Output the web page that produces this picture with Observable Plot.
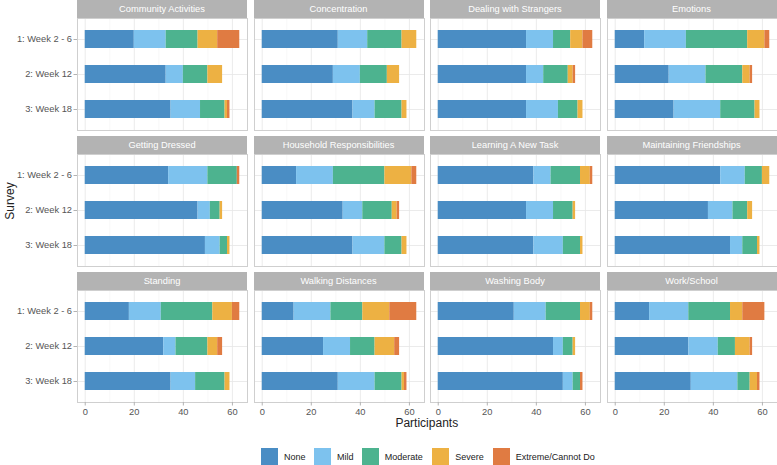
<!DOCTYPE html>
<html><head><meta charset="utf-8">
<script src="https://cdn.jsdelivr.net/npm/d3@7"></script>
<script src="https://cdn.jsdelivr.net/npm/@observablehq/plot@0.6"></script>
<style>
body{margin:0;background:#fff;font-family:"Liberation Sans",Arial,sans-serif;}
#chart{position:relative;width:777px;height:465px;overflow:hidden;background:#fff;}
.strip{position:absolute;background:#b3b3b3;color:#fff;font-size:9.3px;display:flex;align-items:center;justify-content:center;white-space:nowrap;}
.pl{position:absolute;}
.pl svg{overflow:visible;}
.title{position:absolute;color:#222;font-size:12px;white-space:nowrap;}
.lg{position:absolute;display:flex;align-items:center;font-size:9px;color:#222;white-space:nowrap;}
.sw{width:17px;height:17px;margin-right:6px;}
</style></head><body><div id="chart"></div>
<script>
const activities = ["Community Activities","Concentration","Dealing with Strangers","Emotions",
  "Getting Dressed","Household Responsibilities","Learning A New Task","Maintaining Friendships",
  "Standing","Walking Distances","Washing Body","Work/School"];
const surveys = ["1: Week 2 - 6","2: Week 12","3: Week 18"];
const levels = ["None","Mild","Moderate","Severe","Extreme/Cannot Do"];
const colors = ["#4a8dc4","#7dc2ee","#4db38f","#edb143","#e07b42"];
// values per activity (3 surveys each)
const none     = [20,33,35, 31,29,37, 36,36,36, 12,22,24, 34,46,49, 14,33,37, 39,36,39, 43,38,47, 18,32,35, 13,25,31, 31,47,51, 14,30,31];
const mild     = [13,7,12, 12,11,9, 11,7,13, 17,15,19, 16,5,6, 15,8,13, 7,11,12, 10,10,5, 13,5,10, 15,11,15, 13,4,4, 16,12,19];
const moderate = [13,10,10, 14,11,11, 7,10,8, 25,15,14, 12,4,3, 21,12,7, 12,8,7, 7,6,6, 21,13,12, 13,10,11, 14,4,3, 17,7,5];
const severe   = [8,6,1, 6,5,2, 5,2,2, 7,3,2, 0,1,1, 11,2,2, 4,1,1, 3,2,1, 8,4,2, 11,8,1, 4,1,0, 5,6,3];
const extreme  = [9,0,1, 0,0,0, 4,1,0, 2,1,0, 1,0,0, 2,1,0, 1,0,0, 0,0,0, 3,2,0, 11,2,1, 1,0,1, 9,1,1];
const xTicks = [0,20,40,60];
const xMinor = [10,30,50];

const byLevel = [none, mild, moderate, severe, extreme];
const rows = [];
activities.forEach((a, ai) => surveys.forEach((s, si) => levels.forEach((l, li) =>
  rows.push({activity: a, survey: s, level: l, value: byLevel[li][ai * 3 + si]}))));

const chart = document.getElementById("chart");
const W = 170, H = 112, colStep = 176.5, rowStep = 135.8, left0 = 77, top0 = 18, stripH = 17.6;

activities.forEach((a, i) => {
  const r = Math.floor(i / 4), c = i % 4;
  const ml = c === 0 ? 77 : 0, mb = r === 2 ? 26 : 0;
  const px = left0 + c * colStep, py = top0 + r * rowStep;
  const marks = [
    Plot.gridX({ticks: xMinor, stroke: "#f1f1f1", strokeOpacity: 1, strokeWidth: 0.5}),
    Plot.gridX({ticks: xTicks, stroke: "#e6e6e6", strokeOpacity: 1, strokeWidth: 0.8}),
    Plot.gridY({stroke: "#e6e6e6", strokeOpacity: 1, strokeWidth: 0.8}),
    Plot.barX(rows.filter(d => d.activity === a), {x: "value", y: "survey", fill: "level"}),
    Plot.frame({stroke: "#cfcfcf", strokeWidth: 1})
  ];
  if (c === 0) marks.push(Plot.axisY({tickSize: 3.5, tickPadding: 2, fontSize: 9.3, fill: "#555", stroke: "#b3b3b3", label: null}));
  if (r === 2) marks.push(Plot.axisX({ticks: xTicks, tickSize: 3.5, tickPadding: 2, fontSize: 9.3, fill: "#555", stroke: "#b3b3b3", label: null}));
  const svg = Plot.plot({
    width: ml + W, height: H + mb,
    marginLeft: ml, marginRight: 0, marginTop: 0, marginBottom: mb,
    style: {background: "transparent", overflow: "visible", fontFamily: "Liberation Sans, Arial, sans-serif"},
    x: {domain: [-3.15, 66.15], axis: null},
    y: {domain: surveys, paddingInner: 0.5, paddingOuter: 0.35, axis: null},
    color: {domain: levels, range: colors},
    marks
  });
  const wrap = document.createElement("div");
  wrap.className = "pl";
  wrap.style.left = (px - ml) + "px";
  wrap.style.top = py + "px";
  wrap.appendChild(svg);
  chart.appendChild(wrap);
  const strip = document.createElement("div");
  strip.className = "strip";
  strip.style.left = px + "px";
  strip.style.top = (py - stripH) + "px";
  strip.style.width = W + "px";
  strip.style.height = stripH + "px";
  strip.textContent = a;
  chart.appendChild(strip);
});

// axis titles
const xt = document.createElement("div");
xt.className = "title"; xt.textContent = "Participants";
xt.style.left = "426.8px"; xt.style.top = "423px"; xt.style.transform = "translate(-50%,-50%)";
chart.appendChild(xt);
const yt = document.createElement("div");
yt.className = "title"; yt.textContent = "Survey";
yt.style.left = "10px"; yt.style.top = "200.5px"; yt.style.transform = "translate(-50%,-50%) rotate(-90deg)";
chart.appendChild(yt);

// legend
const lgX = [261, 314, 361.7, 432.3, 492.7];
levels.forEach((l, i) => {
  const it = document.createElement("div");
  it.className = "lg";
  it.style.left = lgX[i] + "px"; it.style.top = "448px"; it.style.height = "17px";
  const sw = document.createElement("div");
  sw.className = "sw"; sw.style.background = colors[i];
  it.appendChild(sw);
  const t = document.createElement("span"); t.textContent = l;
  it.appendChild(t);
  chart.appendChild(it);
});
</script></body></html>
